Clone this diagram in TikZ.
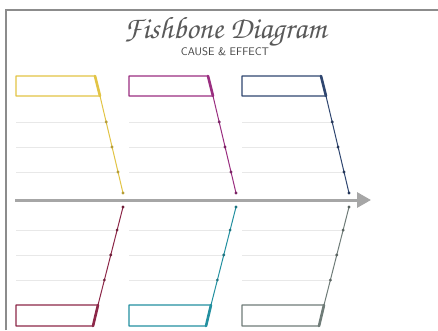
\documentclass[tikz,border=0pt]{standalone}
\usetikzlibrary{arrows.meta}
\definecolor{yellowbone}{HTML}{E2C445}
\definecolor{magentabone}{HTML}{9A2E80}
\definecolor{navybone}{HTML}{2F4670}
\definecolor{maroonbone}{HTML}{8C2748}
\definecolor{tealbone}{HTML}{2390A0}
\definecolor{graybone}{HTML}{6F7C78}
\tikzset{
  bone/.style={line width=1pt},
  bonebox/.style={line width=1.4pt, line join=round},
  boneend/.style={line width=2.6pt, line cap=round},
  rib/.style={black!9, line width=0.8pt},
  knot/.style={circle, inner sep=0pt, minimum size=3.2pt},
}
\begin{document}
\begin{tikzpicture}[x=1pt,y=-1pt]
    \useasboundingbox (0,0) rectangle (438,330);
    \fill[white] (0,0) rectangle (438,330);
    % frame
    \draw[black!45, line width=1.4pt] (6,330) -- (6,10) -- (438,10);
    % title
    \node[inner sep=0pt] (title) at (225,32) {\fontencoding{OT1}\fontfamily{pzc}\fontsize{31}{31}\selectfont\itshape\color{black!65}Fishbone Diagram};
    \node[inner sep=0pt] (subtitle) at (225,52) {\sffamily\fontsize{11}{11}\selectfont\color{black!75}CAUSE \& EFFECT};
    % bones, boxes and ribs
    \foreach \x/\up/\down in {0/yellowbone/maroonbone, 113/magentabone/tealbone, 226/navybone/graybone} {
        % top half
        \foreach \y in {122,147,172}
            \draw[rib] (16+\x,\y) -- ({100+\x+(\y-96)*0.237},\y);
        \coordinate (top-\x) at (100+\x,96);
        \coordinate (spineup-\x) at (123+\x,193);
        \draw[bonebox,\up] (16+\x,76) -- (95+\x,76) -- (top-\x) -- (16+\x,96) -- cycle;
        \draw[boneend,\up] (95+\x,76) -- (top-\x);
        \draw[bone,\up] (top-\x) -- (spineup-\x);
        \foreach \y in {122,147,172,193}
            \node[knot,fill=\up!80!black] at ({100+\x+(\y-96)*0.237},\y) {};
        % bottom half
        \foreach \y in {230,255,280}
            \draw[rib] (16+\x,\y) -- ({123+\x-(\y-207)*0.255},\y);
        \coordinate (bottom-\x) at (98+\x,305);
        \coordinate (spinedown-\x) at (123+\x,207);
        \draw[bonebox,\down] (16+\x,305) -- (bottom-\x) -- (93+\x,326) -- (16+\x,326) -- cycle;
        \draw[boneend,\down] (bottom-\x) -- (93+\x,326);
        \draw[bone,\down] (spinedown-\x) -- (bottom-\x);
        \foreach \y in {207,230,255,280}
            \node[knot,fill=\down!80!black] at ({123+\x-(\y-207)*0.255},\y) {};
    }
    % spine
    \coordinate (tail) at (15,200);
    \coordinate (head) at (371,200);
    \draw[black!35, line width=3pt, -{Triangle[length=14pt,width=15pt]}] (tail) -- (head);
\end{tikzpicture}
\end{document}
